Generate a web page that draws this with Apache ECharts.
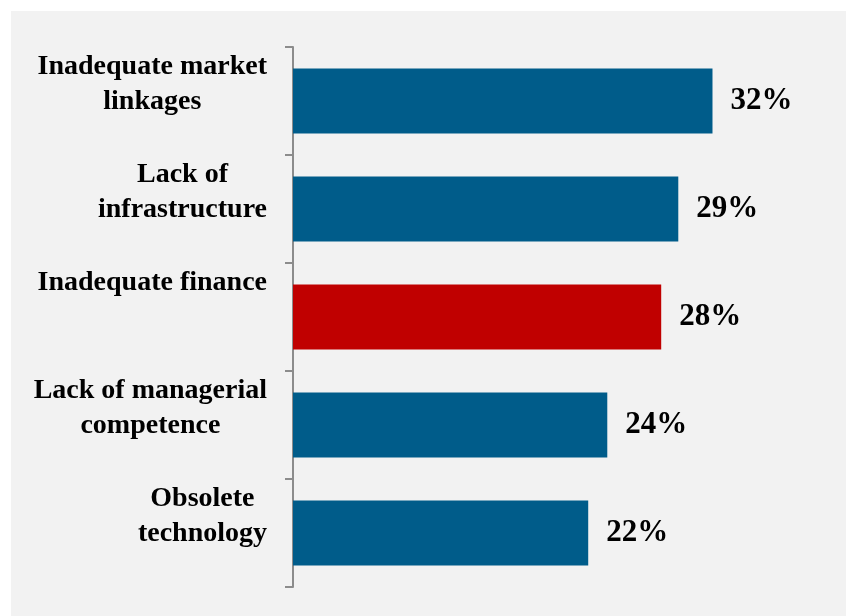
<!DOCTYPE html>
<html>
<head>
<meta charset="utf-8">
<script src="https://cdn.jsdelivr.net/npm/echarts@6/dist/echarts.min.js"></script>
<style>
  html, body { margin: 0; padding: 0; background: #ffffff; }
  #chart { position: absolute; left: 11px; top: 11px; width: 835px; height: 605px; background: #f2f2f2; }
</style>
</head>
<body>
<div id="chart"></div>
<script>
// categories, top to bottom (each line is one label row)
const categories = [
  ['Inadequate market', 'linkages'],
  ['Lack of', 'infrastructure'],
  ['Inadequate finance', ''],
  ['Lack of managerial', 'competence'],
  ['Obsolete', 'technology']
]
const values = [31.9, 29.3, 28.0, 23.9, 22.45]
const highlight = [false, false, true, false, false]

const blue = '#005c8a'
const red = '#c00000'

const chart = echarts.init(document.getElementById('chart'))

chart.setOption({
  animation: false,
  grid: {
    left: 282,
    top: 36,
    right: 27,
    bottom: 29
  },
  xAxis: {
    type: 'value',
    min: 0,
    max: 40,
    show: false,
    splitLine: { show: false }
  },
  yAxis: {
    type: 'category',
    inverse: true,
    data: categories.map(c => c.join('\n')),
    axisLine: { show: true, lineStyle: { color: '#8c8c8c', width: 2 } },
    axisTick: { show: true, length: 8, lineStyle: { color: '#8c8c8c', width: 2 } },
    axisLabel: {
      margin: 26,
      align: 'right',
      verticalAlign: 'middle',
      padding: [0, 0, 34, 0],
      formatter: v => v.split('\n').map(s => '{a|' + (s || ' ') + '}').join('\n'),
      rich: {
        a: {
          align: 'center',
          fontFamily: 'Liberation Serif',
          fontWeight: 'bold',
          fontSize: 28,
          lineHeight: 35,
          color: '#000'
        }
      }
    }
  },
  series: [
    {
      type: 'bar',
      barWidth: 65,
      data: values.map((v, i) => ({
        value: v,
        itemStyle: { color: highlight[i] ? red : blue }
      })),
      label: {
        show: true,
        position: 'right',
        distance: 18,
        formatter: p => Math.round(p.value) + '%',
        fontFamily: 'Liberation Serif',
        fontWeight: 'bold',
        fontSize: 31,
        color: '#000'
      }
    }
  ]
})
</script>
</body>
</html>
